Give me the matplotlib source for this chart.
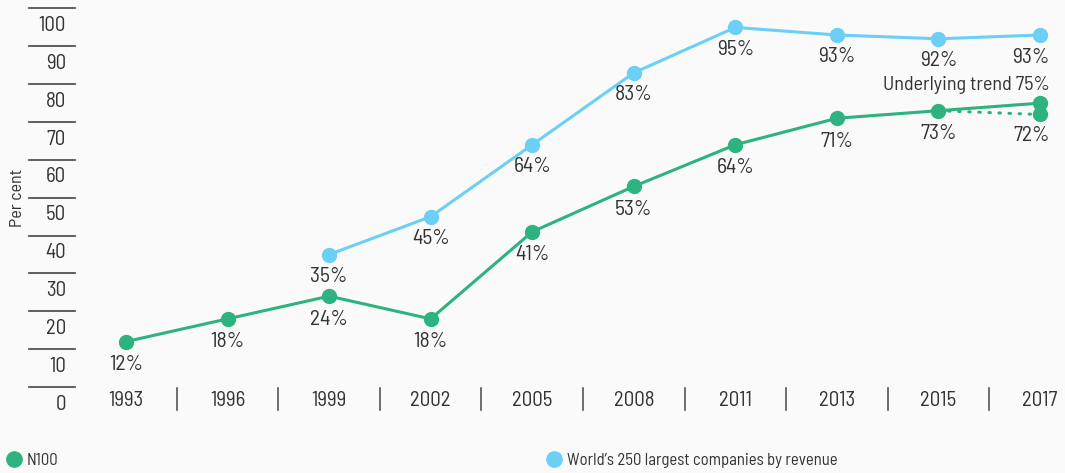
import numpy as np
import matplotlib
matplotlib.use("Agg")
import matplotlib.pyplot as plt
from matplotlib.lines import Line2D

plt.rcParams['font.family'] = ['Barlow Semi Condensed', 'Roboto Condensed',
                               'Archivo Narrow', 'Roboto', 'DejaVu Sans']

# data
years = ['1993', '1996', '1999', '2002', '2005', '2008', '2011', '2013', '2015', '2017']
n100 = [12, 18, 24, 18, 41, 53, 64, 71, 73, 75]
n100_actual_2017 = 72
g250_years = ['1999', '2002', '2005', '2008', '2011', '2013', '2015', '2017']
g250 = [35, 45, 64, 83, 95, 93, 92, 93]
yticks = list(range(0, 101, 10))

green = '#2db37f'
blue = '#6ccff6'
txt = '#333333'
bg = '#fafafa'

W, H = 1065, 473
fig = plt.figure(figsize=(W / 100, H / 100), dpi=100, facecolor=bg)
ax = fig.add_axes([0, 0, 1, 1])
ax.set_facecolor(bg)
ax.axis('off')

# pixel layout -> data limits
x0px, dx = 126, (1040 - 126) / 9
y0px, dy = 387, 3.785
ax.set_xlim(-x0px / dx, (W - x0px) / dx)
ax.set_ylim(-(H - y0px) / dy, y0px / dy)

xi = np.arange(len(years))
gx = [years.index(y) for y in g250_years]

# y "ticks": short rules with labels below them
for v in yticks:
    ax.plot([(29 - x0px) / dx, (75 - x0px) / dx], [v, v], color='#444444', lw=1.2)
    ax.annotate(str(v), xy=((66 - x0px) / dx, v), xytext=(0, -17),
                textcoords='offset pixels', ha='right', va='center',
                fontsize=15, color=txt)
ax.text((17 - x0px) / dx, 50, 'Per cent', rotation=90, ha='center', va='center',
        fontsize=13, color=txt)

# year labels and separators
for i, y in enumerate(years):
    ax.annotate(y, xy=(i, 0), xytext=(0, -13), textcoords='offset pixels',
                ha='center', va='center', fontsize=15, color=txt)
    if i < len(years) - 1:
        ax.plot([i + 0.5, i + 0.5], [-0.3, -6.1], color='#555555', lw=1.2)

# lines
ax.plot(gx, g250, color=blue, lw=2.2, marker='o', ms=10, zorder=3)
ax.plot(xi, n100, color=green, lw=2.2, marker='o', ms=10, zorder=3)
ax.plot([xi[-2], xi[-1]], [n100[-2], n100_actual_2017], color=green, lw=2.2,
        ls=(0, (0.5, 2.8)), dash_capstyle='round', zorder=2)
ax.plot([xi[-1]], [n100_actual_2017], color=green, marker='o', ms=10, ls='none', zorder=3)

# data labels
def lab(x, v, s, dyp, ha='center', dxp=0, fs=15.5):
    ax.annotate(s, xy=(x, v), xytext=(dxp, dyp), textcoords='offset pixels',
                ha=ha, va='center', fontsize=fs, color=txt)

for x, v in zip(gx, g250):
    if x == len(years) - 1:
        lab(x, v, f'{v}%', -23, ha='right', dxp=10)
    else:
        lab(x, v, f'{v}%', -22)
for x, v in zip(xi[:-1], n100[:-1]):
    lab(x, v, f'{v}%', -23)
lab(xi[-1], n100[-1], f'Underlying trend {n100[-1]}%', 18, ha='right', dxp=10, fs=14.5)
lab(xi[-1], n100_actual_2017, f'{n100_actual_2017}%', -21, ha='right', dxp=10)

# legend
h1 = Line2D([], [], color=green, marker='o', ls='none', ms=11)
h2 = Line2D([], [], color=blue, marker='o', ls='none', ms=11)
leg1 = ax.legend([h1], ['N100'], loc='center left', bbox_to_anchor=(-0.0106, 0.027),
                 frameon=False, fontsize=12, handletextpad=0.2, labelcolor=txt,
                 handlelength=1.2)
ax.add_artist(leg1)
ax.legend([h2], ["World\u2019s 250 largest companies by revenue"], loc='center left',
          bbox_to_anchor=(0.4964, 0.027), frameon=False, fontsize=12,
          handletextpad=0.2, labelcolor=txt, handlelength=1.2)

fig.savefig('out.png', dpi=100, facecolor=bg)
